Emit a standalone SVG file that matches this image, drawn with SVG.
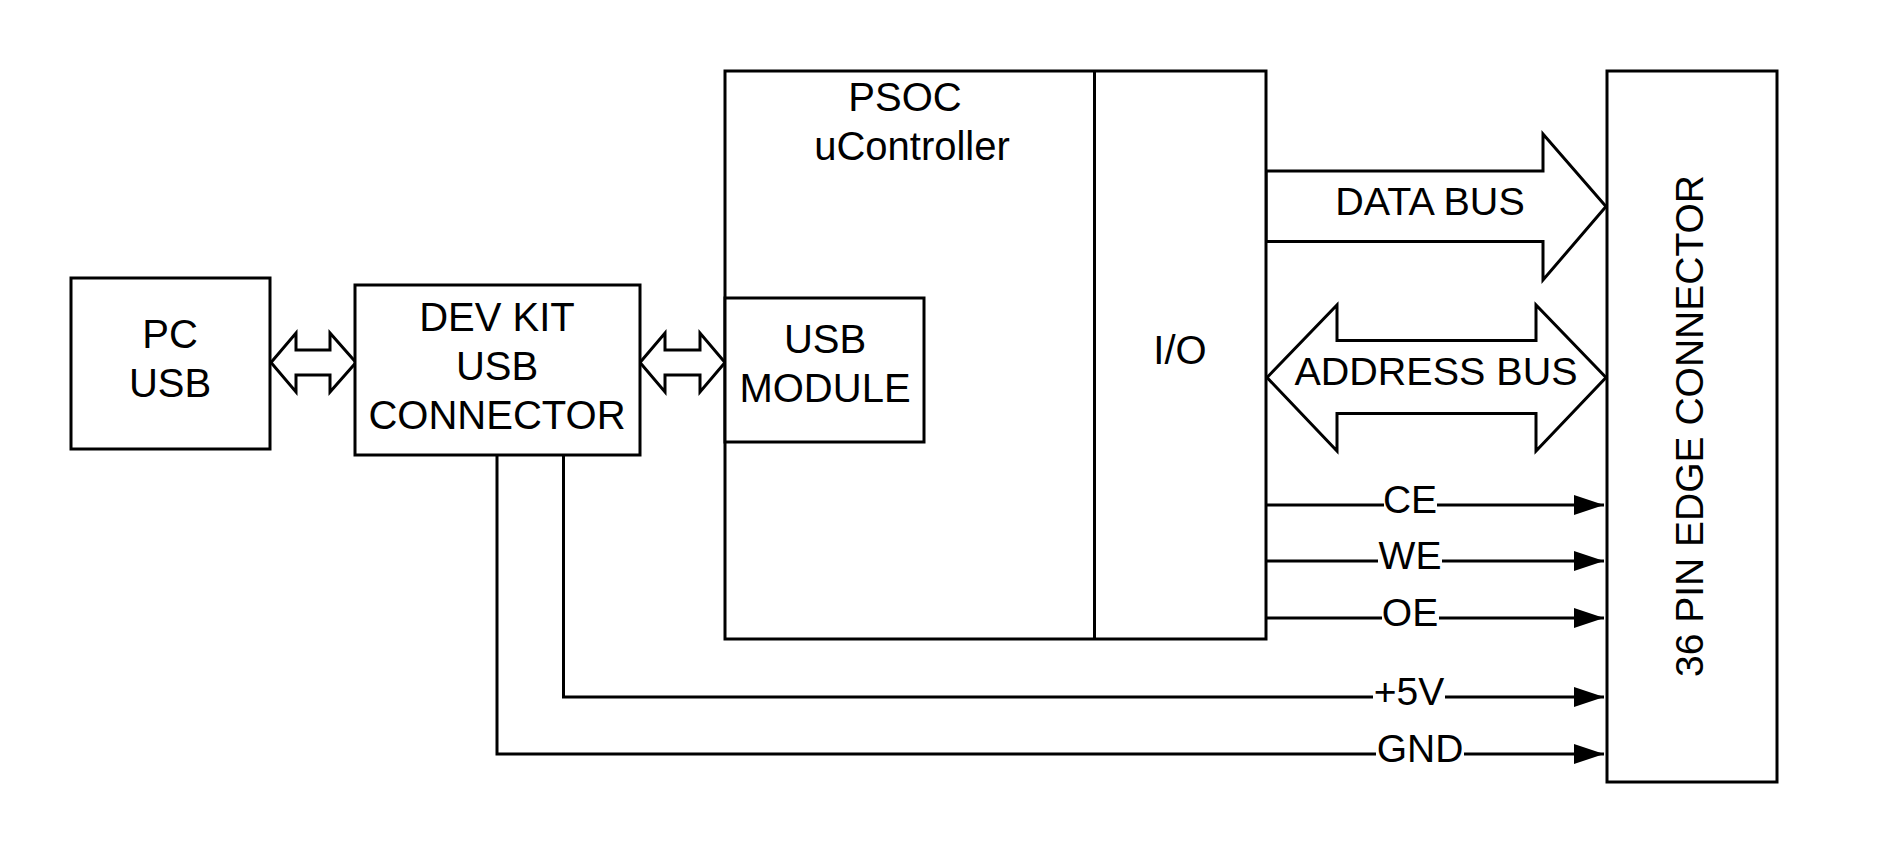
<svg xmlns="http://www.w3.org/2000/svg" width="1892" height="853" viewBox="0 0 1892 853">
<style>
.box{fill:#fff;stroke:#000;stroke-width:3}
.wire{fill:none;stroke:#000;stroke-width:3}
.shape{fill:#fff;stroke:#000;stroke-width:3;stroke-linejoin:miter}
text{font-family:"Liberation Sans",Arial,sans-serif;fill:#000;text-anchor:middle}
.t{font-size:40px}
.lb{font-size:39px}
.bus{font-size:39.5px}
.bg{fill:#fff}
</style>
<defs>
<marker id="arr" markerUnits="userSpaceOnUse" markerWidth="32" markerHeight="22" refX="30" refY="10" orient="auto" viewBox="0 0 32 22">
<path d="M0,0 L30,10 L0,20 Z" fill="#000"/>
</marker>
</defs>
<rect width="1892" height="853" fill="#fff"/>

<g id="connectors">
<polygon class="shape" points="271,362.5 296,333 296,350 330,350 330,333 356,362.5 330,392 330,375 296,375 296,392"/>
<polygon class="shape" points="640,362.5 665,333 665,350 700,350 700,333 725,362.5 700,392 700,375 665,375 665,392"/>
<polygon class="shape" points="1266,171 1543,171 1543,134 1606,206.5 1543,280 1543,241.5 1266,241.5"/>
<polygon class="shape" points="1267,377.5 1337,305 1337,340.5 1536,340.5 1536,305 1606,377.5 1536,451 1536,413.5 1337,413.5 1337,451"/>
<path class="wire" d="M1266,505 H1604" marker-end="url(#arr)"/>
<path class="wire" d="M1266,561 H1604" marker-end="url(#arr)"/>
<path class="wire" d="M1266,618 H1604" marker-end="url(#arr)"/>
<path class="wire" d="M563.5,455 V697 H1604" marker-end="url(#arr)"/>
<path class="wire" d="M497,455 V754 H1604" marker-end="url(#arr)"/>
<rect class="bg" x="1384" y="485" width="53" height="36"/>
<rect class="bg" x="1378" y="541" width="64" height="36"/>
<rect class="bg" x="1382" y="598" width="57" height="36"/>
<rect class="bg" x="1373" y="677" width="72" height="36"/>
<rect class="bg" x="1376" y="734" width="88" height="36"/>
<text class="lb" x="1410" y="513">CE</text>
<text class="lb" x="1410" y="569">WE</text>
<text class="lb" x="1410" y="626">OE</text>
<text class="lb" x="1409" y="705">+5V</text>
<text class="lb" x="1420" y="762">GND</text>
<text class="bus" x="1430" y="215">DATA BUS</text>
<text class="bus" x="1436" y="385">ADDRESS BUS</text>
</g>

<g id="pc-usb">
<rect class="box" x="71" y="278" width="199" height="171"/>
<text class="t" x="170" y="348">PC</text>
<text class="t" x="170" y="397">USB</text>
</g>

<g id="dev-kit">
<rect class="box" x="355" y="285" width="285" height="170"/>
<text class="t" x="497" y="331">DEV KIT</text>
<text class="t" x="497" y="380">USB</text>
<text class="t" x="497" y="429">CONNECTOR</text>
</g>

<g id="psoc">
<rect class="box" x="725" y="71" width="541" height="568"/>
<line class="wire" x1="1094.5" y1="71" x2="1094.5" y2="639"/>
<text class="t" x="905" y="111">PSOC</text>
<text class="t" x="912" y="160">uController</text>
</g>

<g id="io">
<text class="t" x="1180" y="364">I/O</text>
</g>

<g id="usb-module">
<rect class="box" x="725" y="298" width="199" height="144"/>
<text class="t" x="825" y="353">USB</text>
<text class="t" x="825" y="402">MODULE</text>
</g>

<g id="edge-connector">
<rect class="box" x="1607" y="71" width="170" height="711"/>
<text class="t" style="font-size:39px" transform="translate(1703,426) rotate(-90)">36 PIN EDGE CONNECTOR</text>
</g>
</svg>
